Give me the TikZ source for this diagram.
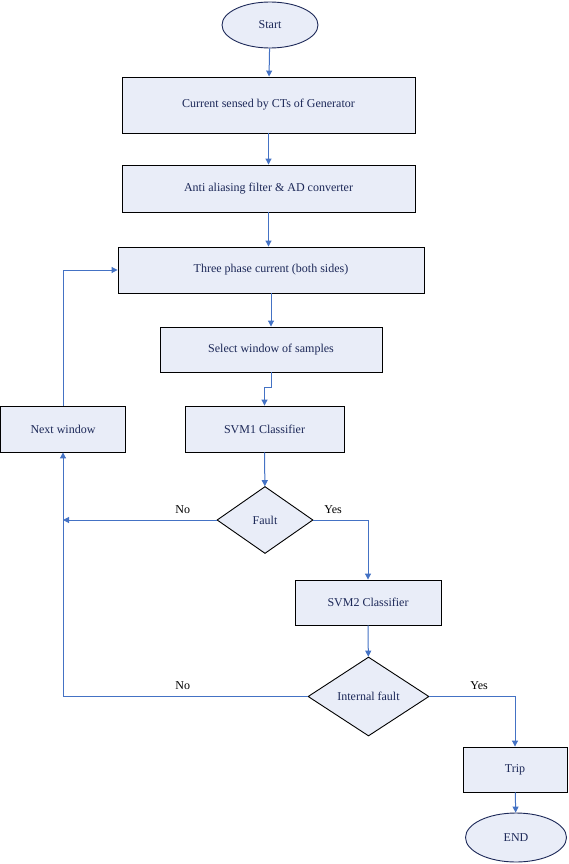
\documentclass[tikz,border=0pt]{standalone}
\usepackage{fontspec}
\setmainfont{Liberation Serif}
\usetikzlibrary{shapes.geometric,arrows.meta}
\definecolor{boxfill}{RGB}{233,237,248}
\definecolor{boxtext}{RGB}{28,40,88}
\definecolor{flowblue}{RGB}{68,114,196}
\tikzset{
  stepbox/.style={draw=black, line width=0.9pt, fill=boxfill, text=boxtext,
    inner sep=0pt, font=\fontsize{12}{14}\selectfont},
  terminal/.style={ellipse, draw=boxtext, line width=0.9pt, fill=boxfill,
    text=boxtext, inner sep=0pt, font=\fontsize{12}{14}\selectfont},
  decision/.style={diamond, draw=black, line width=0.9pt, fill=boxfill,
    text=boxtext, inner sep=0pt, font=\fontsize{12}{14}\selectfont},
  flow/.style={draw=flowblue, line width=1pt, -{Triangle[length=6pt,width=6pt]}},
  answer/.style={font=\fontsize{12}{14}\selectfont}
}
\begin{document}
\begin{tikzpicture}[x=1pt,y=-1pt]
\useasboundingbox (0,0) rectangle (568,864);
%
\node (start) at (270,25) [terminal, minimum width=96pt, minimum height=46pt] {Start};
\node (sensed) at (268.5,105) [stepbox, minimum width=293pt, minimum height=56pt] {Current sensed by CTs of Generator};
\node (filter) at (268.5,188.5) [stepbox, minimum width=293pt, minimum height=47pt] {Anti aliasing filter \& AD converter};
\node (three) at (271,270) [stepbox, minimum width=306pt, minimum height=46pt] {Three phase current (both sides)};
\node (select) at (271,349.5) [stepbox, minimum width=222pt, minimum height=45pt] {Select window of samples};
\node (svmone) at (264.5,429) [stepbox, minimum width=159pt, minimum height=46pt] {SVM1 Classifier};
\node (nextw) at (63,429) [stepbox, minimum width=125pt, minimum height=46pt] {Next window};
\node (fault) at (265,520) [decision, minimum width=96pt, minimum height=67pt] {Fault};
\node (svmtwo) at (368,602.5) [stepbox, minimum width=146pt, minimum height=45pt] {SVM2 Classifier};
\node (ifault) at (368.5,696.5) [decision, minimum width=121pt, minimum height=79pt] {Internal fault};
\node (trip) at (515,769.5) [stepbox, minimum width=104pt, minimum height=45pt] {Trip};
\node (stop) at (516,837.5) [terminal, minimum width=101pt, minimum height=49pt] {END};
%
\draw [flow] (start) -- (sensed);
\draw [flow] (sensed) -- (filter);
\draw [flow] (filter.south) -- (filter.south |- three.north);
\draw [flow] (three.south) -- (three.south |- select.north);
\draw [flow] (select.south) -- ++(0,15) -| (svmone.north);
\draw [flow] (svmone) -- (fault);
%
\draw [flow] (fault.west) -- (fault.west -| nextw.south) node[answer, pos=0.22, above=3pt]{No};
\draw [flow] (fault.east) -| (svmtwo.north) node[answer, pos=0.18, above=3pt]{Yes};
\draw [flow] (svmtwo) -- (ifault);
\draw [flow] (ifault.west) -| (nextw.south) node[answer, pos=0.255, above=3pt]{No};
\draw [flow] (ifault.east) -| (trip.north) node[answer, pos=0.29, above=3pt]{Yes};
\draw [flow] (trip) -- (stop);
\draw [flow] (nextw.north) |- (three.west);
\end{tikzpicture}
\end{document}
